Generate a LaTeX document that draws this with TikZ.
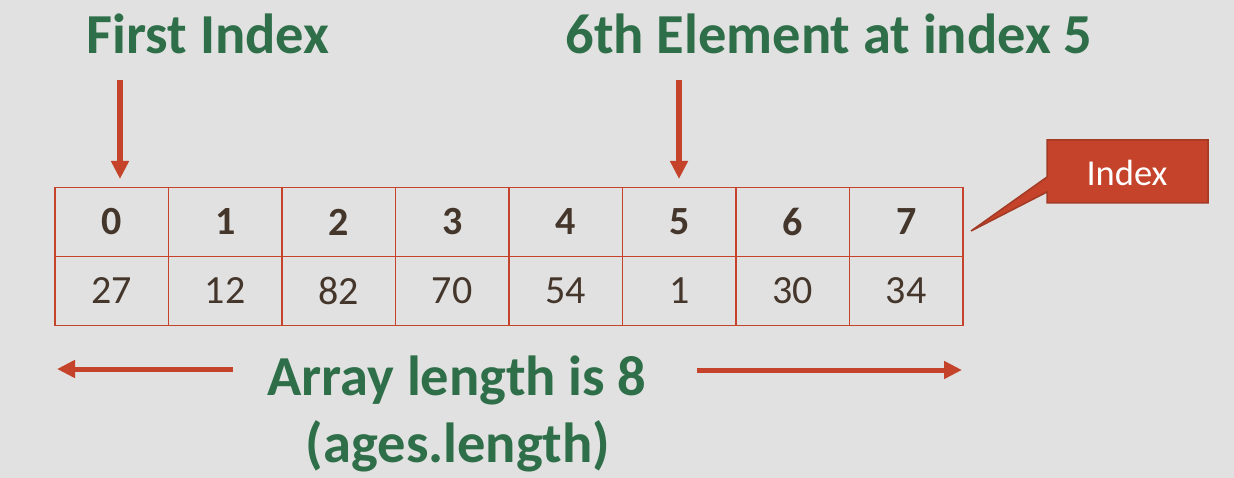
\documentclass[tikz,border=0pt]{standalone}
\usepackage{fontspec}
\setmainfont{Carlito}
\usetikzlibrary{arrows.meta}
\definecolor{bg}{HTML}{E0E1E0}
\definecolor{grn}{HTML}{2E6E48}
\definecolor{rust}{HTML}{C4432A}
\definecolor{rustdk}{HTML}{A33A25}
\definecolor{ink}{HTML}{45362C}
\tikzset{
  title/.style={text=grn, font=\fontsize{56.5}{62}\selectfont\bfseries, anchor=base, inner sep=0pt},
  cell/.style={draw=rust, line width=1.8pt, minimum width=113.5pt, minimum height=69pt, inner sep=0pt, text=ink, font=\fontsize{40}{44}\selectfont},
  idxcell/.style={cell, font=\fontsize{40}{44}\selectfont\bfseries},
  bigarrow/.style={draw=rust, line width=6pt, -{Triangle[length=18pt,width=17pt]}},
}
\begin{document}
\begin{tikzpicture}[x=1pt,y=-1pt]
\fill[bg] (0,0) rectangle (1234,478);
\useasboundingbox (0,0) rectangle (1234,478);
% titles
\node[title] (first) at (208,54) {First Index};
\node[title] (sixth) at (829,54) {6th Element at index 5};
% table
\foreach \i/\v in {0/27,1/12,2/82,3/70,4/54,5/1,6/30,7/34} {
  \node[idxcell] (i\i) at ({55+113.5*\i+56.75},222) {\i};
  \node[cell] (v\i) at ({55+113.5*\i+56.75},291) {\v};
}
% vertical arrows
\coordinate (a0) at (120,80);
\coordinate (a0e) at (120,188);
\coordinate (a5) at (679,80);
\coordinate (a5e) at (679,188);
\draw[bigarrow, shorten >=9pt] (a0) -- (a0e);
\draw[bigarrow, shorten >=9pt] (a5) -- (a5e);
% length label and arrows
\node[title] (len) at (457,395) {Array length is 8};
\node[title] (ages) at (458,462) {(ages.length)};
\coordinate (l1) at (233,369);
\coordinate (l2) at (57,369);
\coordinate (r1) at (697,370);
\coordinate (r2) at (962,370);
\draw[bigarrow, line width=5pt] (l1) -- (l2);
\draw[bigarrow, line width=5pt] (r1) -- (r2);
% callout
\draw[fill=rust, draw=rustdk, line width=1.5pt, line join=miter]
  (1047,140) -- (1208,140) -- (1208,203) -- (1047,203) -- (1047,192) -- (971,231) -- (1047,177) -- cycle;
\node[text=white, font=\fontsize{36.5}{40}\selectfont, inner sep=0pt] (idx) at (1127,173) {Index};
\end{tikzpicture}
\end{document}
